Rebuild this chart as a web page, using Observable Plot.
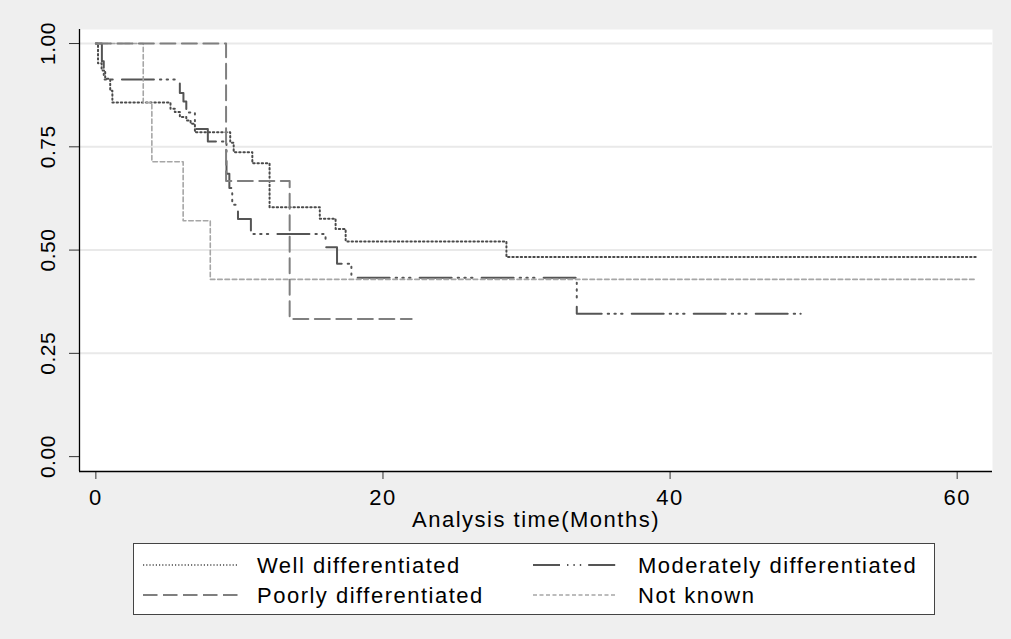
<!DOCTYPE html>
<html>
<head>
<meta charset="utf-8">
<script src="https://cdn.jsdelivr.net/npm/d3@7"></script>
<script src="https://cdn.jsdelivr.net/npm/@observablehq/plot@0.6"></script>
<style>
  html, body { margin: 0; padding: 0; background: #efefef; }
  #wrap { position: relative; width: 1011px; height: 639px; background: #efefef; font-family: "Liberation Sans", Arial, sans-serif; overflow: hidden; }
  #chart { position: absolute; left: 0; top: 0; }
  #legend { position: absolute; left: 133px; top: 543px; }
</style>
</head>
<body>
<div id="wrap"><div id="chart"></div><div id="legend"></div></div>
<script>
// ---- Data ----
const seriesNames = ["Well differentiated", "Moderately differentiated", "Poorly differentiated", "Not known"];

const wellTime = [0, 0.15, 0.4, 0.65, 1.0, 1.15, 5.2, 5.5, 5.85, 6.3, 6.6, 6.9, 9.36, 9.6, 10.9, 12.1, 15.6, 16.7, 17.4, 28.6, 61.4];
const wellSurv = [1, 0.952, 0.935, 0.915, 0.886, 0.857, 0.842, 0.834, 0.822, 0.814, 0.806, 0.785, 0.760, 0.737, 0.710, 0.604, 0.576, 0.551, 0.521, 0.483, 0.483];

const modTime = [0, 0.42, 0.55, 5.85, 6.1, 6.3, 6.9, 7.8, 9.1, 9.3, 9.5, 9.9, 10.8, 16.0, 16.8, 17.8, 33.5, 49.1];
const modSurv = [1, 0.957, 0.913, 0.880, 0.860, 0.833, 0.793, 0.763, 0.685, 0.650, 0.610, 0.575, 0.539, 0.507, 0.467, 0.433, 0.346, 0.346];

const poorTime = [0, 9.07, 13.5, 22.0];
const poorSurv = [1, 0.667, 0.333, 0.333];

const unkTime = [0, 3.3, 3.9, 6.08, 7.97, 61.3];
const unkSurv = [1, 0.857, 0.714, 0.571, 0.429, 0.429];

const xTicks = [0, 20, 40, 60];
const yTicks = [0, 0.25, 0.5, 0.75, 1];
const xLabel = "Analysis time(Months)";

// ---- Build tables ----
const toRows = (t, s) => t.map((d, i) => ({time: d, surv: s[i]}));
const well = toRows(wellTime, wellSurv);
const mod = toRows(modTime, modSurv);
const poor = toRows(poorTime, poorSurv);
const unk = toRows(unkTime, unkSurv);

const X0 = -1.14, X1 = 62.46, Y0 = -0.036, Y1 = 1.034;

const styles = {
  well: {stroke: "#4a4a4a", strokeWidth: 2, strokeDasharray: "1.4,2.8"},
  mod:  {stroke: "#555", strokeWidth: 2, strokeDasharray: "32,6,1.4,5.3,1.4,5.3,1.4,9.2"},
  poor: {stroke: "#7f7f7f", strokeWidth: 2, strokeDasharray: "15,6.5"},
  unk:  {stroke: "#a6a6a6", strokeWidth: 1.6, strokeDasharray: "4.5,2.8"}
};

const chart = Plot.plot({
  width: 1011,
  height: 535,
  marginLeft: 79,
  marginRight: 19,
  marginTop: 29,
  marginBottom: 64,
  style: {background: "transparent", fontFamily: '"Liberation Sans", Arial, sans-serif', fontSize: "22px", color: "#000", letterSpacing: "1.5px"},
  x: {domain: [X0, X1]},
  y: {domain: [Y0, Y1]},
  marks: [
    Plot.frame({fill: "white", stroke: "none"}),
    Plot.gridY(yTicks.filter(d => d > 0), {stroke: "#e9e9e9", strokeOpacity: 1, strokeWidth: 2}),
    Plot.axisY(yTicks, {tickSize: 10, tickFormat: () => "", stroke: "#333", label: null}),
    Plot.text(yTicks, {y: d => d, text: d => d3.format(".2f")(d), frameAnchor: "left", dx: -31.5, rotate: -90, textAnchor: "middle", lineAnchor: "middle", fontSize: 21, fill: "#000"}),
    Plot.axisX(xTicks, {tickSize: 8, tickPadding: 10, stroke: "#333", label: null, fontSize: 22}),
    Plot.text([xLabel], {frameAnchor: "bottom", dy: 48, lineAnchor: "middle", fontSize: 22, fill: "#000"}),
    Plot.ruleX([X0], {stroke: "#000", strokeWidth: 1.3}),
    Plot.ruleY([Y0], {stroke: "#000", strokeWidth: 1.3}),
    Plot.line(well, {x: "time", y: "surv", curve: "step-after", ...styles.well}),
    Plot.line(mod, {x: "time", y: "surv", curve: "step-after", ...styles.mod}),
    Plot.line(unk, {x: "time", y: "surv", curve: "step-after", ...styles.unk}),
    Plot.line(poor, {x: "time", y: "surv", curve: "step-after", ...styles.poor})
  ]
});
// rotated y labels with less extra spacing
chart.querySelectorAll("text").forEach(t => { if (/^\d\.\d\d$/.test(t.textContent)) t.style.letterSpacing = "0.5px"; });
document.getElementById("chart").appendChild(chart);

// ---- Legend (below the plot area) ----
const W = 801, H = 71;
const leg = d3.select("#legend").append("svg").attr("width", W + 2).attr("height", H + 2);
leg.append("rect").attr("x", 0.5).attr("y", 0.5).attr("width", W).attr("height", H)
  .attr("fill", "white").attr("stroke", "#444").attr("stroke-width", 1);
const items = [
  {name: seriesNames[0], st: styles.well, x1: 10, x2: 105, tx: 124, y: 22, dash: "1.2,2"},
  {name: seriesNames[1], st: styles.mod, x1: 400, x2: 484, tx: 505, y: 22, dash: "27,7,1.4,5,1.4,5,1.4,7,27"},
  {name: seriesNames[2], st: styles.poor, x1: 10, x2: 105, tx: 124, y: 52, dash: "14.5,5.5"},
  {name: seriesNames[3], st: styles.unk, x1: 400, x2: 484, tx: 505, y: 52, dash: "4,2.5"}
];
items.forEach(it => {
  leg.append("line").attr("x1", it.x1).attr("x2", it.x2).attr("y1", it.y).attr("y2", it.y)
    .attr("stroke", it.st.stroke).attr("stroke-width", it === items[0] ? 1.5 : it.st.strokeWidth).attr("stroke-dasharray", it.dash);
  leg.append("text").attr("x", it.tx).attr("y", it.y).attr("dy", "0.35em")
    .attr("font-family", '"Liberation Sans", Arial, sans-serif').attr("font-size", 22)
    .style("letter-spacing", "1.5px").attr("fill", "#000").text(it.name);
});
</script>
</body>
</html>
